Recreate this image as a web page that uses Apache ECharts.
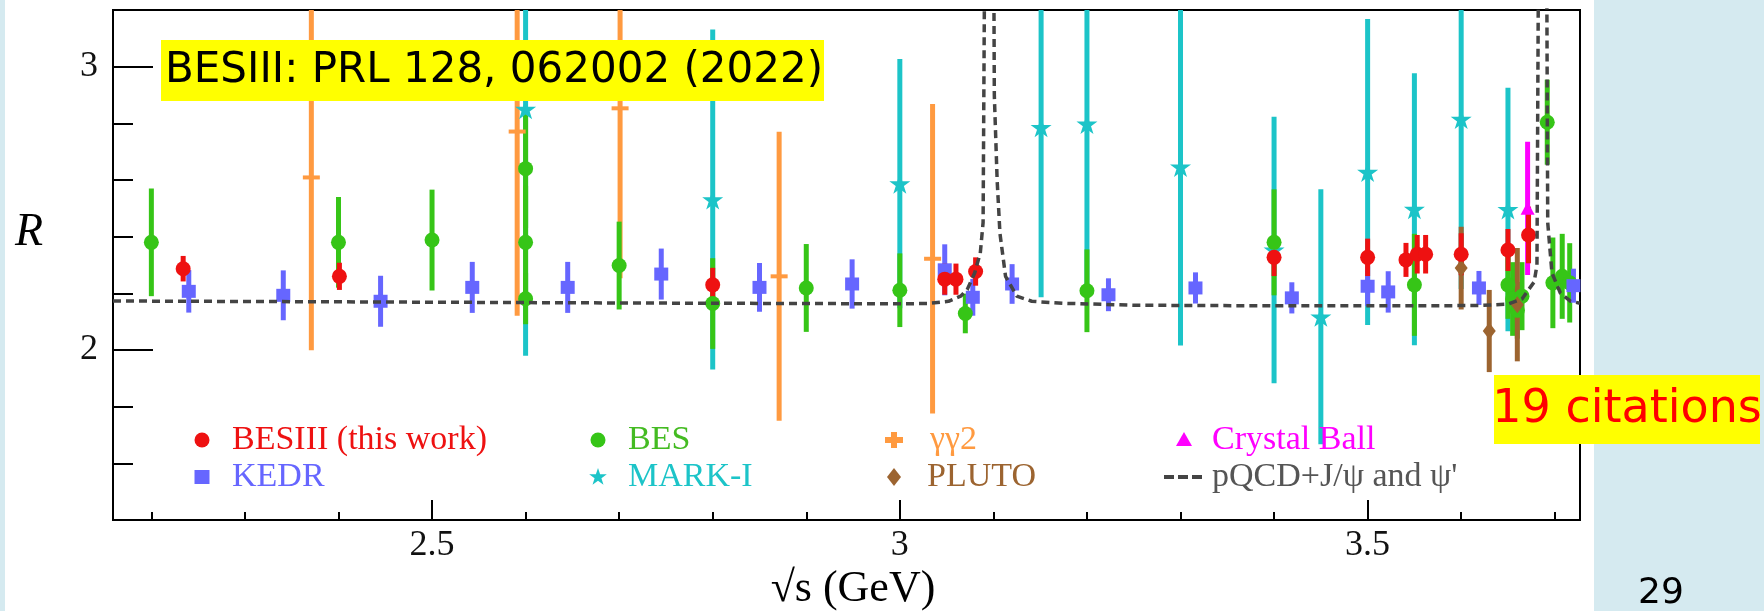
<!DOCTYPE html>
<html>
<head>
<meta charset="utf-8">
<title>R values</title>
<script src="https://cdn.jsdelivr.net/npm/echarts@6/dist/echarts.min.js"></script>
<style>
html, body { margin: 0; padding: 0; background: #fff; }
#graph_container { width: 1764px; height: 611px; }
</style>
</head>
<body>
<div id="graph_container"></div>
<script>
// values: sqrt(s) in GeV, R, and half error bar
var besiiiE = [2.234, 2.401, 2.80, 3.048, 3.06, 3.081, 3.4, 3.5, 3.541, 3.553, 3.562, 3.60, 3.65, 3.672];
var besiiiR = [2.287, 2.260, 2.230, 2.25, 2.25, 2.277, 2.327, 2.327, 2.318, 2.338, 2.338, 2.338, 2.353, 2.406];
var besiiiErr = [0.045, 0.048, 0.06, 0.055, 0.055, 0.05, 0.066, 0.066, 0.06, 0.068, 0.068, 0.074, 0.074, 0.1];

var besE = [2.2, 2.4, 2.5, 2.6, 2.6, 2.6, 2.7, 2.8, 2.9, 3.0, 3.07, 3.2, 3.4, 3.55, 3.65, 3.655, 3.66, 3.665, 3.692, 3.698, 3.708, 3.716];
var besR = [2.38, 2.38, 2.388, 2.64, 2.38, 2.181, 2.298, 2.164, 2.219, 2.211, 2.129, 2.209, 2.38, 2.23, 2.23, 2.18, 2.14, 2.19, 2.804, 2.237, 2.26, 2.237];
var besErr = [0.19, 0.16, 0.178, 0.21, 0.2, 0.09, 0.155, 0.16, 0.155, 0.13, 0.07, 0.146, 0.187, 0.18, 0.12, 0.13, 0.1, 0.12, 0.15, 0.16, 0.15, 0.14];

var kedrE = [2.24, 2.341, 2.445, 2.543, 2.645, 2.745, 2.85, 2.949, 3.048, 3.078, 3.12, 3.223, 3.316, 3.419, 3.5, 3.522, 3.619, 3.72];
var kedrR = [2.207, 2.193, 2.172, 2.221, 2.221, 2.268, 2.221, 2.233, 2.283, 2.186, 2.233, 2.195, 2.219, 2.184, 2.225, 2.205, 2.219, 2.227];
var kedrErr = [0.075, 0.088, 0.09, 0.09, 0.09, 0.09, 0.086, 0.087, 0.09, 0.065, 0.07, 0.058, 0.055, 0.055, 0.07, 0.073, 0.06, 0.06];

var markE = [2.6, 2.8, 3.0, 3.151, 3.2, 3.3, 3.4, 3.45, 3.5, 3.55, 3.6, 3.65];
var markR = [2.85, 2.531, 2.587, 2.786, 2.798, 2.646, 2.353, 2.117, 2.628, 2.497, 2.815, 2.496];
var markErr = [0.87, 0.6, 0.44, 0.6, 0.6, 0.63, 0.47, 0.45, 0.54, 0.48, 0.6, 0.43];

var ggE = [2.371, 2.591, 2.701, 2.871, 3.035];
var ggR = [2.609, 2.771, 2.853, 2.26, 2.322];
var ggErr = [0.61, 0.65, 0.6, 0.51, 0.546];

var plutoE = [3.6, 3.63, 3.66];
var plutoR = [2.289, 2.067, 2.16];
var plutoErr = [0.146, 0.145, 0.2];

var cbE = [3.671];
var cbR = [2.50];
var cbErr = [0.235];

// pQCD + J/psi and psi' curve
var pqcdE = [2.159, 2.4, 2.7, 3.0, 3.03, 3.052, 3.065, 3.072, 3.08, 3.086, 3.089, 3.0905, 3.0955, 3.1005, 3.101, 3.104, 3.107, 3.113, 3.125, 3.141, 3.174, 3.25, 3.4, 3.55, 3.62, 3.65, 3.665, 3.672, 3.678, 3.681, 3.6825, 3.687, 3.6915, 3.6925, 3.697, 3.706, 3.717, 3.727];
var pqcdR = [2.173, 2.170, 2.166, 2.163, 2.164, 2.172, 2.19, 2.213, 2.272, 2.342, 2.45, 3.3, 6.0, 3.3, 2.9, 2.6, 2.412, 2.26, 2.19, 2.172, 2.165, 2.158, 2.156, 2.156, 2.157, 2.162, 2.18, 2.213, 2.24, 2.3, 3.3, 6.0, 3.3, 2.45, 2.272, 2.201, 2.172, 2.165];

var xMajorTicks = [2.5, 3, 3.5];
var xMinorTicks = [2.2, 2.3, 2.4, 2.6, 2.7, 2.8, 2.9, 3.1, 3.2, 3.3, 3.4, 3.6, 3.7];
var yMajorTicks = [2, 3];
var yMinorTicks = [1.6, 1.8, 2.2, 2.4, 2.6, 2.8];

var xMin = 2.159, xMax = 3.727, yMin = 1.4, yMax = 3.2;

var STAR = 'path://M50,0L61.8,35.3L99,35.3L69,57.2L80.4,92.7L50,70.8L19.6,92.7L31,57.2L1,35.3L38.2,35.3Z';
var STAR_PTS = [[50,0],[61.8,35.3],[99,35.3],[69,57.2],[80.4,92.7],[50,70.8],[19.6,92.7],[31,57.2],[1,35.3],[38.2,35.3]];

var serif = '"Liberation Serif", "Times New Roman", serif';

var RED = '#ee1111', GREEN = '#36c517', BLUE = '#6666ff', CYAN = '#1cc4c8',
    ORANGE = '#ff9a40', BROWN = '#9c6430', MAGENTA = '#ff00ff', DASH = '#444444';
var BG = '#d5eaf0';

function errSeries(name, color, E, R, Err) {
    return {
        type: 'custom',
        name: name + ' err',
        silent: true,
        clip: true,
        data: E.map(function (e, i) { return [e, R[i] - Err[i], R[i] + Err[i]]; }),
        encode: { x: 0, y: [1, 2] },
        renderItem: function (params, api) {
            var x = api.value(0);
            var lo = api.coord([x, Math.max(api.value(1), yMin)]);
            var hi = api.coord([x, Math.min(api.value(2), yMax)]);
            return {
                type: 'line',
                shape: { x1: lo[0], y1: lo[1], x2: hi[0], y2: hi[1] },
                style: { stroke: color, lineWidth: 5 }
            };
        }
    };
}

function markSeries(name, color, E, R, symbol, size) {
    return {
        type: 'scatter',
        name: name,
        silent: true,
        symbol: symbol,
        symbolSize: size,
        itemStyle: { color: color, opacity: 1 },
        data: E.map(function (e, i) { return [e, R[i]]; })
    };
}

// legend drawn by hand so icon and text sit exactly where they do in the figure
function legendIcon(kind, cx, cy, color) {
    if (kind === 'circle') return { type: 'circle', z: 100, shape: { cx: cx, cy: cy, r: 7.5 }, style: { fill: color } };
    if (kind === 'square') return { type: 'rect', z: 100, shape: { x: cx - 7.5, y: cy - 7, width: 15, height: 14 }, style: { fill: color } };
    if (kind === 'star') return { type: 'polygon', z: 100, shape: { points: STAR_PTS.map(function (p) { return [cx + (p[0] - 50) * 0.18, cy + (p[1] - 50) * 0.18]; }) }, style: { fill: color } };
    if (kind === 'plus') return { type: 'polygon', z: 100, shape: { points: [[cx - 3, cy - 8], [cx + 3, cy - 8], [cx + 3, cy - 3], [cx + 9, cy - 3], [cx + 9, cy + 3], [cx + 3, cy + 3], [cx + 3, cy + 8], [cx - 3, cy + 8], [cx - 3, cy + 3], [cx - 9, cy + 3], [cx - 9, cy - 3], [cx - 3, cy - 3]] }, style: { fill: color } };
    if (kind === 'diamond') return { type: 'polygon', z: 100, shape: { points: [[cx, cy - 9], [cx + 7, cy], [cx, cy + 9], [cx - 7, cy]] }, style: { fill: color } };
    if (kind === 'triangle') return { type: 'polygon', z: 100, shape: { points: [[cx, cy - 8], [cx + 8, cy + 6], [cx - 8, cy + 6]] }, style: { fill: color } };
    // dashes
    return {
        type: 'group', z: 100,
        children: [0, 1, 2].map(function (k) {
            return { type: 'rect', z: 100, shape: { x: cx - 20 + k * 14, y: cy - 2, width: 10, height: 4 }, style: { fill: color } };
        })
    };
}

function legendItem(kind, cx, tx, cy, color, textColor, label) {
    return [
        legendIcon(kind, cx, cy, color),
        { type: 'text', z: 100, x: tx, y: cy, style: { text: label, font: '34px "Liberation Serif"', fill: textColor, align: 'left', verticalAlign: 'middle' } }
    ];
}

var row1 = 440, row2 = 477;
var legendGraphics = [].concat(
    legendItem('circle', 202, 232, row1, RED, RED, 'BESIII (this work)'),
    legendItem('square', 202, 232, row2, BLUE, BLUE, 'KEDR'),
    legendItem('circle', 598, 628, row1, GREEN, '#44bb22', 'BES'),
    legendItem('star', 598, 628, row2, CYAN, CYAN, 'MARK-I'),
    legendItem('plus', 894, 930, row1, ORANGE, ORANGE, 'γγ2'),
    legendItem('diamond', 894, 927, row2, BROWN, BROWN, 'PLUTO'),
    legendItem('triangle', 1184, 1212, row1, MAGENTA, MAGENTA, 'Crystal Ball'),
    legendItem('dash', 1184, 1212, row2, DASH, '#555555', "pQCD+J/ψ and ψ'")
);

var dom = document.getElementById('graph_container');
var myChart = echarts.init(dom);
var option = {
    backgroundColor: '#ffffff',
    animation: false,
    grid: {
        left: 113, right: 184, top: 10, bottom: 91,
        show: true, borderColor: '#000', borderWidth: 2
    },
    xAxis: [{
        type: 'value', min: xMin, max: xMax, position: 'bottom',
        axisLine: { lineStyle: { color: '#000', width: 2 } },
        axisTick: { customValues: xMinorTicks, inside: true, length: 8, lineStyle: { color: '#000', width: 2 } },
        axisLabel: { show: false },
        splitLine: { show: false }
    }, {
        type: 'value', min: xMin, max: xMax, position: 'bottom',
        axisLine: { show: false },
        axisTick: { customValues: xMajorTicks, inside: true, length: 20, lineStyle: { color: '#000', width: 2 } },
        axisLabel: { customValues: xMajorTicks, fontFamily: serif, fontSize: 36, color: '#111', margin: 8 },
        splitLine: { show: false }
    }],
    yAxis: [{
        type: 'value', min: yMin, max: yMax, position: 'left',
        axisLine: { lineStyle: { color: '#000', width: 2 } },
        axisTick: { customValues: yMinorTicks, inside: true, length: 20, lineStyle: { color: '#000', width: 2 } },
        axisLabel: { show: false },
        splitLine: { show: false }
    }, {
        type: 'value', min: yMin, max: yMax, position: 'left',
        axisLine: { show: false },
        axisTick: { customValues: yMajorTicks, inside: true, length: 40, lineStyle: { color: '#000', width: 2 } },
        axisLabel: { customValues: yMajorTicks, fontFamily: serif, fontSize: 36, color: '#111', margin: 15 },
        splitLine: { show: false }
    }],
    series: [
        {
            type: 'line',
            name: "pQCD+J/ψ and ψ'",
            silent: true,
            symbol: 'none',
            clip: true,
            lineStyle: { color: DASH, width: 3.5, type: [8, 5] },
            itemStyle: { color: DASH },
            data: pqcdE.map(function (e, i) { return [e, pqcdR[i]]; })
        },
        errSeries('γγ2', ORANGE, ggE, ggR, ggErr),
        markSeries('γγ2', ORANGE, ggE, ggR, 'rect', [17, 4]),
        errSeries('MARK-I', CYAN, markE, markR, markErr),
        markSeries('MARK-I', CYAN, markE, markR, STAR, [21, 20]),
        errSeries('BES', GREEN, besE, besR, besErr),
        markSeries('BES', GREEN, besE, besR, 'circle', 15),
        errSeries('KEDR', BLUE, kedrE, kedrR, kedrErr),
        markSeries('KEDR', BLUE, kedrE, kedrR, 'rect', [14, 13]),
        errSeries('PLUTO', BROWN, plutoE, plutoR, plutoErr),
        markSeries('PLUTO', BROWN, plutoE, plutoR, 'diamond', [13, 17]),
        errSeries('Crystal Ball', MAGENTA, cbE, cbR, cbErr),
        markSeries('Crystal Ball', MAGENTA, cbE, cbR, 'triangle', [14, 13]),
        errSeries('BESIII (this work)', RED, besiiiE, besiiiR, besiiiErr),
        markSeries('BESIII (this work)', RED, besiiiE, besiiiR, 'circle', 15)
    ],
    graphic: [
        { type: 'rect', z: 100, shape: { x: 0, y: 0, width: 5, height: 611 }, style: { fill: BG } },
        { type: 'rect', z: 100, shape: { x: 1594, y: 0, width: 170, height: 611 }, style: { fill: BG } },
        { type: 'rect', z: 100, shape: { x: 161, y: 40, width: 663, height: 61 }, style: { fill: '#ffff00' } },
        { type: 'text', z: 101, x: 165, y: 71, style: { text: 'BESIII: PRL 128, 062002 (2022)', font: '42px "DejaVu Sans"', fill: '#000', align: 'left', verticalAlign: 'middle' } },
        { type: 'rect', z: 100, shape: { x: 1494, y: 375, width: 266, height: 69 }, style: { fill: '#ffff00' } },
        { type: 'text', z: 101, x: 1627, y: 410, style: { text: '19 citations', font: '46px "DejaVu Sans"', fill: '#ff0000', align: 'center', verticalAlign: 'middle' } },
        { type: 'text', z: 100, x: 1661, y: 594, style: { text: '29', font: '36px "DejaVu Sans"', fill: '#000', align: 'center', verticalAlign: 'middle' } },
        { type: 'text', z: 100, x: 29, y: 233, style: { text: 'R', font: 'italic 46px "Liberation Serif"', fill: '#000', align: 'center', verticalAlign: 'middle' } },
        { type: 'text', z: 100, x: 853, y: 589, style: { text: '√s (GeV)', font: '44px "Liberation Serif"', fill: '#000', align: 'center', verticalAlign: 'middle' } }
    ].concat(legendGraphics)
};
myChart.setOption(option, true);
</script>
</body>
</html>
